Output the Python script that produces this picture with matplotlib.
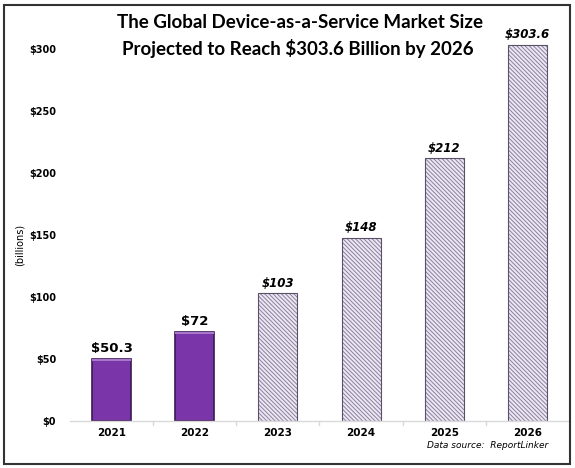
import matplotlib
matplotlib.use("Agg")
import matplotlib.pyplot as plt
from matplotlib.patches import Rectangle

years = ["2021", "2022", "2023", "2024", "2025", "2026"]
values = [50.3, 72, 103, 148, 212, 303.6]
labels = ["$50.3", "$72", "$103", "$148", "$212", "$303.6"]
projected = [False, False, True, True, True, True]
yticks = [0, 50, 100, 150, 200, 250, 300]
ytick_labels = ["$0", "$50", "$100", "$150", "$200", "$250", "$300"]

plt.rcParams['hatch.linewidth'] = 0.7
fig = plt.figure(figsize=(5.75, 4.68), dpi=100)
ax = fig.add_axes([70/575, 1 - 421/468, 499/575, (421 - 12)/468])

x = list(range(len(years)))
for i, (v, p) in enumerate(zip(values, projected)):
    if p:
        ax.bar(i, v, width=0.47, color="#ece8f2", edgecolor="#8c7fa0", hatch="\\\\\\\\\\\\\\\\", linewidth=0)
        ax.bar(i, v, width=0.47, color="none", edgecolor="#5a5068", linewidth=0.8)
    else:
        ax.bar(i, v, width=0.47, color="#7a36a8", edgecolor="#3a1a52", linewidth=1.2)
        ax.bar(i, 2.0, bottom=v - 2.0, width=0.47, color="#a877cc", linewidth=0)

for i, (v, lab, p) in enumerate(zip(values, labels, projected)):
    if p:
        ax.text(i, v + 3, lab, ha="center", va="bottom", fontsize=8.5, fontweight="bold",
                fontstyle="italic", family="DejaVu Sans", color="black")
    else:
        ax.text(i, v + 3, lab, ha="center", va="bottom", fontsize=9.5, fontweight="bold",
                family="DejaVu Sans", color="black")

ax.set_xlim(-0.5, len(years) - 0.5)
ax.set_ylim(0, 330)
ax.set_yticks(yticks)
ax.set_yticklabels(ytick_labels, fontsize=7, fontweight="bold", family="DejaVu Sans")
ax.set_xticks(x)
ax.set_xticklabels(years, fontsize=7.5, fontweight="bold", family="DejaVu Sans")
ax.tick_params(axis="y", length=0, pad=10)
ax.tick_params(axis="x", length=0, pad=5)
for s in ["top", "right", "left"]:
    ax.spines[s].set_visible(False)
ax.spines["bottom"].set_color("#d9d9d9")
ax.spines["bottom"].set_linewidth(1)
for b in [i + 0.5 for i in range(len(years) - 1)]:
    ax.plot([b, b], [0, -3], color="#d9d9d9", lw=1, clip_on=False)

ax.set_ylabel("(billions)", fontsize=7, family="DejaVu Sans")
ax.yaxis.set_label_coords(-0.09, 0.43)

fig.text(300/575, 1 - 22/468, "The Global Device-as-a-Service Market Size", ha="center", va="center",
         fontsize=13.5, fontweight="bold", family="Lato")
fig.text(298/575, 1 - 48/468, "Projected to Reach $303.6 Billion by 2026", ha="center", va="center",
         fontsize=13.5, fontweight="bold", family="Lato")
fig.text(548/575, 1 - 446/468, "Data source:  ReportLinker", ha="right", va="center",
         fontsize=6.5, fontstyle="italic", family="DejaVu Sans")

fig.patches.append(Rectangle((4/575, 4/468), 566/575, 459/468, transform=fig.transFigure,
                             fill=False, edgecolor="#333333", linewidth=1.5))
fig.savefig("out.png", dpi=100)
